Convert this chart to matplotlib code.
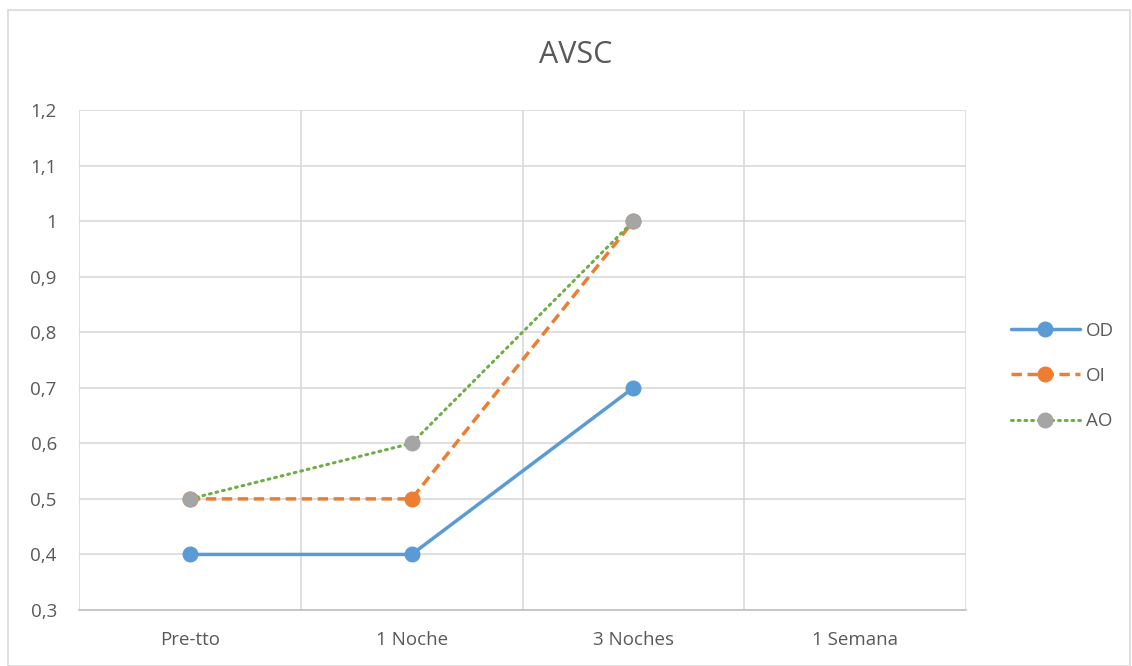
import matplotlib
matplotlib.use("Agg")
import matplotlib.pyplot as plt
from matplotlib.patches import Rectangle

categories = ["Pre-tto", "1 Noche", "3 Noches", "1 Semana"]
od = [0.4, 0.4, 0.7]
oi = [0.5, 0.5, 1.0]
ao = [0.5, 0.6, 1.0]
yticks = [0.3, 0.4, 0.5, 0.6, 0.7, 0.8, 0.9, 1.0, 1.1, 1.2]

W, H = 1132, 666
fig = plt.figure(figsize=(W / 100, H / 100), dpi=100)
plt.rcParams["font.family"] = ["Open Sans", "DejaVu Sans"]
txt = "#595959"
fs = 13.5

# outer chart border
fig.patches.append(Rectangle((8 / W, 0), (W - 10) / W, (H - 10) / H,
                             transform=fig.transFigure, fill=False,
                             edgecolor="#D9D9D9", linewidth=1.2))

ax = fig.add_axes([79 / W, 1 - 610 / H, (966 - 79) / W, (610 - 110) / H])
n = len(categories)
xs = list(range(n))
ax.set_xlim(-0.5, n - 0.5)
ax.set_ylim(0.3, 1.2)
ax.set_yticks(yticks)
ax.set_yticklabels([("%g" % v).replace(".", ",") for v in yticks])
ax.set_xticks(xs)
ax.set_xticklabels(categories)
ax.set_xticks([i - 0.5 for i in range(n + 1)], minor=True)
ax.grid(True, axis="y", color="#D9D9D9", linewidth=1.2)
ax.grid(True, axis="x", which="minor", color="#D9D9D9", linewidth=1.2)
ax.tick_params(axis="both", which="both", length=0, colors=txt, labelsize=fs)
ax.tick_params(axis="y", pad=16)
ax.tick_params(axis="x", pad=15)
for s in ["left", "right", "top"]:
    ax.spines[s].set_visible(False)
ax.spines["bottom"].set_color("#BFBFBF")
ax.spines["bottom"].set_linewidth(1.2)
ax.set_axisbelow(True)

ms = 10.5
ax.plot(xs[:len(od)], od, color="#5B9BD5", linewidth=2.5, marker="o",
        markersize=ms, label="OD", solid_capstyle="round")
ax.plot(xs[:len(oi)], oi, color="#ED7D31", linewidth=2.5, linestyle=(0, (3, 1.6)),
        marker="o", markersize=ms, label="OI")
ax.plot(xs[:len(ao)], ao, color="#70AD47", linewidth=2.2, linestyle=(0, (0.6, 1.6)),
        dash_capstyle="round", marker="o", markersize=ms,
        markerfacecolor="#A5A5A5", markeredgecolor="#A5A5A5", label="AO")

fig.text(576 / W, 1 - 55 / H, "AVSC", fontsize=22, color=txt,
         ha="center", va="center")

leg = ax.legend(loc="center left", bbox_to_anchor=(1003 / W, 1 - 376 / H),
                bbox_transform=fig.transFigure, frameon=False, fontsize=fs,
                labelcolor=txt, handlelength=3.7, handletextpad=0.3,
                labelspacing=1.45, borderaxespad=0)

fig.savefig("out.png", dpi=100)
